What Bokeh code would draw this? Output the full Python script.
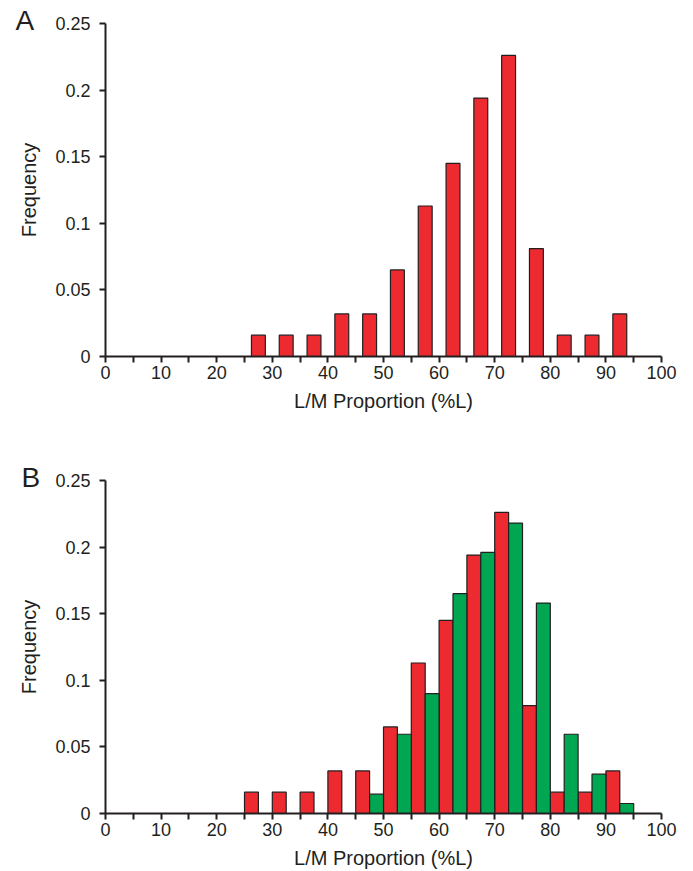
from bokeh.plotting import figure
from bokeh.layouts import column
from bokeh.models import Range1d, FixedTicker, NumeralTickFormatter
from bokeh.embed import file_html
from bokeh.resources import INLINE

# ---- data ----
bin_left = [25, 30, 35, 40, 45, 50, 55, 60, 65, 70, 75, 80, 85, 90]
red_freq = [0.016, 0.016, 0.016, 0.032, 0.032, 0.065, 0.113, 0.145, 0.194, 0.226, 0.081, 0.016, 0.016, 0.032]
green_freq = [0.0, 0.0, 0.0, 0.0, 0.0145, 0.0595, 0.090, 0.165, 0.196, 0.218, 0.158, 0.0595, 0.0295, 0.0075]
x_ticks = [0, 10, 20, 30, 40, 50, 60, 70, 80, 90, 100]
x_minor_ticks = [5, 15, 25, 35, 45, 55, 65, 75, 85, 95]
y_ticks = [0, 0.05, 0.1, 0.15, 0.2, 0.25]
x_title = "L/M Proportion (%L)"
y_title = "Frequency"

RED = "#EC2A30"
GREEN = "#00A651"
INK = "#231F20"
FONT = "Liberation Sans"
BIN_W = 5
BAR_W = 2.5


def make_fig(height, top, bottom, letter, letter_offset):
    p = figure(width=693, height=height, output_backend="svg", toolbar_location=None,
               x_range=Range1d(0, 100), y_range=Range1d(0, 0.25),
               min_border_left=105, min_border_right=32,
               min_border_top=top, min_border_bottom=bottom)
    p.outline_line_color = None
    p.xgrid.visible = False
    p.ygrid.visible = False
    p.background_fill_color = "white"
    p.border_fill_color = "white"

    for ax in (p.xaxis[0], p.yaxis[0]):
        ax.axis_line_color = INK
        ax.axis_line_width = 2
        ax.major_tick_line_color = INK
        ax.major_tick_line_width = 2
        ax.major_tick_out = 6
        ax.major_tick_in = 0
        ax.minor_tick_line_color = INK
        ax.minor_tick_line_width = 2
        ax.minor_tick_out = 6
        ax.minor_tick_in = 0
        ax.major_label_text_font = FONT
        ax.major_label_text_font_size = "18px"
        ax.major_label_text_color = INK
        ax.axis_label_text_font = FONT
        ax.axis_label_text_font_size = "20px"
        ax.axis_label_text_font_style = "normal"
        ax.axis_label_text_color = INK

    p.xaxis.ticker = FixedTicker(ticks=x_ticks, minor_ticks=x_minor_ticks)
    p.yaxis.ticker = FixedTicker(ticks=y_ticks, minor_ticks=[])
    p.yaxis.formatter = NumeralTickFormatter(format="0.[00]")
    p.xaxis.axis_label = x_title
    p.yaxis.axis_label = y_title
    p.xaxis.major_label_standoff = 3
    p.xaxis.axis_label_standoff = 8
    p.yaxis.major_label_standoff = 9
    p.yaxis.axis_label_standoff = 12

    # panel letter as the figure title, pulled to the left of the frame
    p.title.text = letter
    p.title.align = "left"
    p.title.offset = letter_offset
    p.title.standoff = -24
    p.title.text_font = FONT
    p.title.text_font_size = "28px"
    p.title.text_font_style = "normal"
    p.title.text_color = INK
    return p


# Panel A
pa = make_fig(450, 23, 94, "A", -90)
a_centers = [b + BIN_W / 2 for b in bin_left]
pa.vbar(x=a_centers, width=BAR_W, top=red_freq, bottom=0,
        fill_color=RED, line_color=INK, line_width=1.2)

# Panel B
pb = make_fig(421, 30, 57, "B", -84)
b_red_x = [b + BAR_W / 2 for b in bin_left]
b_green_x = [b + BAR_W + BAR_W / 2 for b in bin_left]
pb.vbar(x=b_red_x, width=BAR_W, top=red_freq, bottom=0,
        fill_color=RED, line_color=INK, line_width=1.2)
g_x = [x for x, v in zip(b_green_x, green_freq) if v > 0]
g_v = [v for v in green_freq if v > 0]
pb.vbar(x=g_x, width=BAR_W, top=g_v, bottom=0,
        fill_color=GREEN, line_color=INK, line_width=1.2)

layout = column(pa, pb, spacing=0)
open("out.html", "w").write(file_html(layout, INLINE))
